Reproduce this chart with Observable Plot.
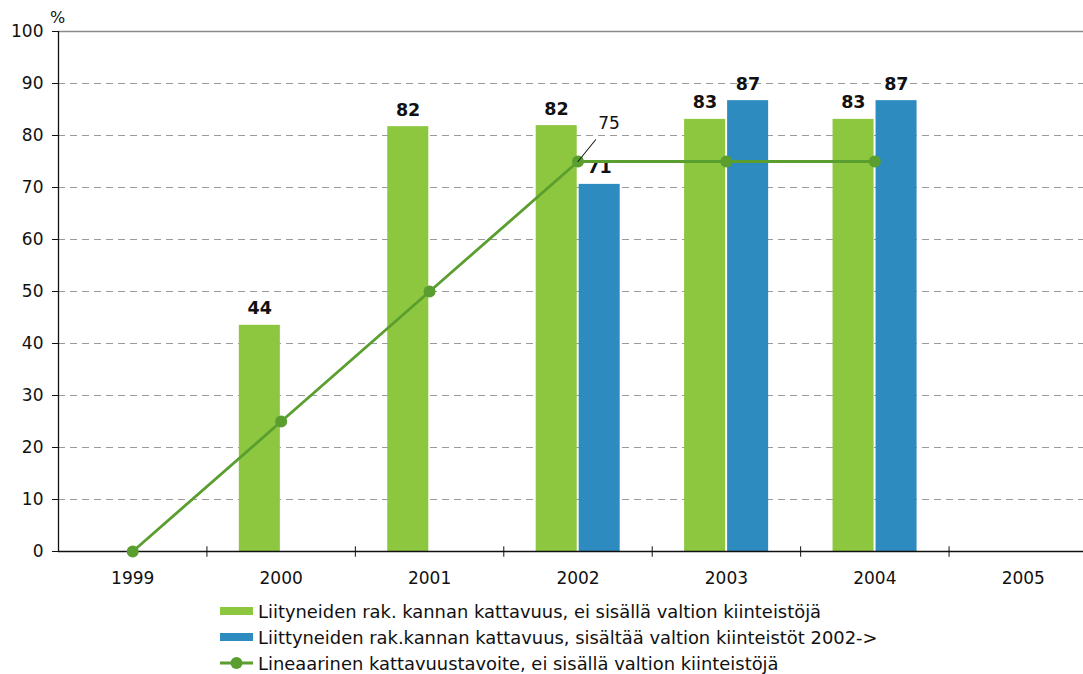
<!DOCTYPE html>
<html>
<head>
<meta charset="utf-8">
<script src="https://cdn.jsdelivr.net/npm/d3@7"></script>
<script src="https://cdn.jsdelivr.net/npm/@observablehq/plot@0.6"></script>
<style>
  html, body { margin: 0; padding: 0; overflow: hidden; background: #fff; }
  body { width: 1083px; height: 674px; position: relative; font-family: "DejaVu Sans", sans-serif; }
  #chart { position: absolute; left: 0; top: 0; }
  #chart svg { max-width: none !important; }
  .leg { position: absolute; left: 220px; height: 26px; display: flex; align-items: center; font-size: 17.9px; color: #111; white-space: nowrap; }
  .sw { width: 33px; height: 8px; margin-right: 5px; }
</style>
</head>
<body>
<div id="chart"></div>
<div id="legend"></div>
<script>
const years = ["1999", "2000", "2001", "2002", "2003", "2004", "2005"];
const greenValues = [null, 43.5, 81.7, 81.9, 83.1, 83.1, null];
const blueValues = [null, null, null, 70.6, 86.7, 86.7, null];
const targetYears = ["1999", "2000", "2001", "2002", "2003", "2004"];
const targetValues = [0, 25, 50, 75, 75, 75];
const yTicks = [0, 10, 20, 30, 40, 50, 60, 70, 80, 90, 100];
const seriesNames = [
  "Liityneiden rak. kannan kattavuus, ei sisällä valtion kiinteistöjä",
  "Liittyneiden rak.kannan kattavuus, sisältää valtion kiinteistöt 2002->",
  "Lineaarinen kattavuustavoite, ei sisällä valtion kiinteistöjä"
];
const annotationYear = "2002";
const annotationValue = 75;

const GREEN = "#8dc63f", BLUE = "#2e8bc0", LINE = "#5a9e2f";
const W = 1100, ML = 58, MR = 3, MT = 31, MB = 44, H = 595;
const step = (W - ML - MR) / years.length;

const green = years.map((y, i) => ({year: y, value: greenValues[i]})).filter(d => d.value != null);
const blue = years.map((y, i) => ({year: y, value: blueValues[i]})).filter(d => d.value != null);
const target = targetYears.map((y, i) => ({year: y, value: targetValues[i]}));

const font = "DejaVu Sans, sans-serif";

const chart = Plot.plot({
  width: W, height: H,
  marginLeft: ML, marginRight: MR, marginTop: MT, marginBottom: MB,
  style: {fontFamily: font, fontSize: "17px", color: "#111", background: "white", maxWidth: "none"},
  x: {type: "band", domain: years, padding: 0, round: false, axis: null},
  y: {domain: [0, 100], axis: null},
  marks: [
    Plot.ruleY(yTicks.filter(t => t > 0 && t < 100), {stroke: "#9a9a9a", strokeDasharray: "7,5", strokeWidth: 1}),
    Plot.ruleY([100], {stroke: "#8a8a8a", strokeWidth: 1.6}),
    Plot.barY(green, {x: "year", y: "value", fill: GREEN, insetLeft: 32.4, insetRight: 75}),
    Plot.barY(blue, {x: "year", y: "value", fill: BLUE, insetLeft: 75.4, insetRight: 32}),
    Plot.ruleY([0], {stroke: "#111", strokeWidth: 1.3}),
    Plot.ruleX([years[0]], {x: d => d, dx: -step / 2, y1: 0, y2: 100, stroke: "#111", strokeWidth: 1.3}),
    Plot.ruleX(years.slice(1), {x: d => d, dx: -step / 2, y1: -1.1, y2: 0.9, stroke: "#111", strokeWidth: 1}),
    Plot.axisY({ticks: yTicks, tickSize: 6, tickPadding: 9, fontSize: 17, label: null, tickFormat: d => String(d), stroke: "#111"}),
    Plot.text(years, {x: d => d, y: 0, dy: 27, text: d => d, fontSize: 17, fill: "#111"}),
    Plot.text(["%"], {frameAnchor: "top-left", textAnchor: "middle", lineAnchor: "middle", dx: -1, dy: -14, text: d => d, fontSize: 16, fill: "#111"}),
    Plot.text(green, {x: "year", y: "value", text: d => String(Math.round(d.value)), dx: -21.5, dy: -16.5, fontWeight: "bold", fontSize: 17.5, fill: "#111"}),
    Plot.text(blue, {x: "year", y: "value", text: d => String(Math.round(d.value)), dx: 21.5, dy: -16.5, fontWeight: "bold", fontSize: 17.5, fill: "#111"}),
    Plot.line(target, {x: "year", y: "value", stroke: LINE, strokeWidth: 2.8}),
    Plot.dot(target, {x: "year", y: "value", fill: LINE, r: 6}),
    Plot.vector([{year: annotationYear, value: annotationValue}], {
      x: "year", y: "value", length: 28, rotate: 39, anchor: "start", stroke: "#111", strokeWidth: 1,
      shape: {draw(context, l) { context.moveTo(0, 0); context.lineTo(0, -l); }}
    }),
    Plot.text([{year: annotationYear, value: annotationValue}], {x: "year", y: "value", text: d => String(d.value), dx: 31, dy: -38, fontSize: 17, fill: "#111"})
  ]
});
document.getElementById("chart").appendChild(chart);

const legend = document.getElementById("legend");
const rowCenters = [611, 637, 663];
seriesNames.forEach((name, i) => {
  const row = document.createElement("div");
  row.className = "leg";
  row.style.top = (rowCenters[i] - 13) + "px";
  let sym;
  if (i < 2) {
    sym = `<div class="sw" style="background:${i === 0 ? GREEN : BLUE}"></div>`;
  } else {
    sym = `<svg width="33" height="14" style="margin-right:5px"><line x1="0" y1="7" x2="33" y2="7" stroke="${LINE}" stroke-width="2.8"/><circle cx="16.5" cy="7" r="6" fill="${LINE}"/></svg>`;
  }
  row.innerHTML = sym + `<span>${name}</span>`;
  legend.appendChild(row);
});
</script>
</body>
</html>
